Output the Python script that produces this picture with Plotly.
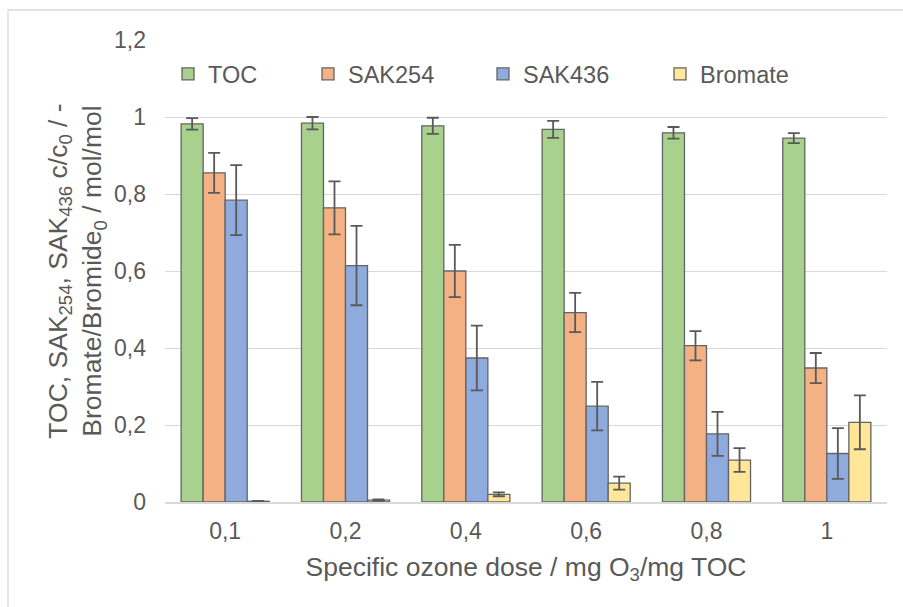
import plotly.graph_objects as go

# Specific ozone dose categories (decimal comma labels)
doses = ["0,1", "0,2", "0,4", "0,6", "0,8", "1"]

# Relative residuals c/c0 and bromate yield, with standard deviations
toc = [0.982, 0.984, 0.977, 0.968, 0.959, 0.945]
toc_err = [0.015, 0.016, 0.021, 0.022, 0.015, 0.013]
sak254 = [0.855, 0.764, 0.600, 0.492, 0.406, 0.348]
sak254_err = [0.052, 0.069, 0.068, 0.051, 0.038, 0.039]
sak436 = [0.784, 0.614, 0.374, 0.249, 0.177, 0.126]
sak436_err = [0.091, 0.103, 0.084, 0.063, 0.057, 0.066]
bromate = [0.002, 0.005, 0.020, 0.049, 0.109, 0.207]
bromate_err = [0.001, 0.002, 0.005, 0.017, 0.031, 0.070]

series = [
    ("TOC", toc, toc_err, "#A9D18E"),
    ("SAK254", sak254, sak254_err, "#F4B183"),
    ("SAK436", sak436, sak436_err, "#8FAADC"),
    ("Bromate", bromate, bromate_err, "#FFE699"),
]

FONT = "Liberation Sans, Arial, sans-serif"
TEXT = "#595959"
GRID = "#D9D9D9"

# plot area in pixels (used to place legends and frame in paper units)
W, H = 903, 607
L, R, T, B = 165, 16, 40, 105
PW, PH = W - L - R, H - T - B


def px_x(p):
    return (p - L) / PW


def px_y(p):
    return (H - B - p) / PH


fig = go.Figure()
legend_ids = ["legend", "legend2", "legend3", "legend4"]
symbol_px = [197, 337, 512, 689]

for (name, vals, errs, col), lid in zip(series, legend_ids):
    fig.add_trace(go.Bar(
        name=name, x=doses, y=vals,
        marker=dict(color=col, line=dict(color="#646464", width=1.3)),
        error_y=dict(type="data", array=errs, visible=True,
                     color="#595959", thickness=1.8, width=6),
        legend=lid,
    ))

legend_common = dict(
    orientation="h", xanchor="left", yanchor="middle",
    font=dict(family=FONT, size=23.5, color=TEXT),
    bgcolor="rgba(0,0,0,0)", borderwidth=0,
)
layout_legends = {}
for lid, sx in zip(legend_ids, symbol_px):
    layout_legends[lid] = dict(legend_common, x=px_x(sx - 29), y=px_y(74))

fig.update_layout(
    width=W, height=H,
    margin=dict(l=L, r=R, t=T, b=B, autoexpand=False),
    paper_bgcolor="white", plot_bgcolor="white",
    separators=", ",
    barmode="group", bargap=0.268, bargroupgap=0,
    font=dict(family=FONT, color=TEXT),
    showlegend=True,
    xaxis=dict(
        type="category",
        showgrid=False, showline=True, linecolor=GRID, linewidth=1.5,
        ticks="", ticklabelstandoff=8,
        tickfont=dict(family=FONT, size=23, color=TEXT),
        title=dict(text="Specific ozone dose / mg O<sub>3</sub>/mg TOC",
                   font=dict(family=FONT, size=26.5, color=TEXT), standoff=14),
    ),
    yaxis=dict(
        range=[0, 1.2], dtick=0.2, tick0=0,
        showgrid=True, gridcolor=GRID, gridwidth=1.3,
        zeroline=False, showline=False,
        ticks="", ticklabelstandoff=18,
        tickfont=dict(family=FONT, size=23, color=TEXT),
        title=dict(text="TOC, SAK<sub>254</sub>, SAK<sub>436</sub> c/c<sub>0</sub> / -<br>"
                        "Bromate/Bromide<sub>0</sub> / mol/mol",
                   font=dict(family=FONT, size=26.5, color=TEXT), standoff=4),
    ),
    shapes=[dict(
        type="rect", xref="paper", yref="paper", layer="below",
        x0=px_x(8), x1=px_x(960), y0=px_y(660), y1=px_y(10),
        line=dict(color=GRID, width=1.3), fillcolor="rgba(0,0,0,0)",
    )],
    **layout_legends,
)

fig.write_html("out.html")
